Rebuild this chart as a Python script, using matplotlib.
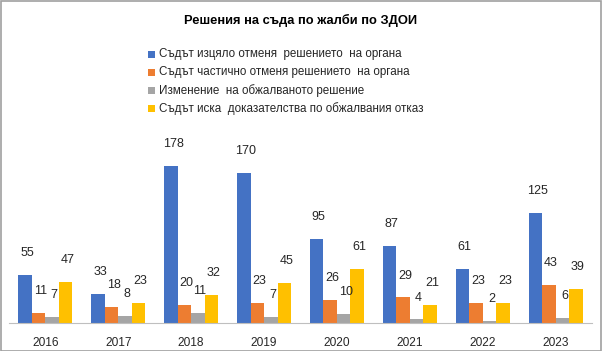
import matplotlib
matplotlib.use("Agg")
import matplotlib.pyplot as plt
import numpy as np
from matplotlib.patches import Rectangle

years = ["2016", "2017", "2018", "2019", "2020", "2021", "2022", "2023"]
full_revoke = [55, 33, 178, 170, 95, 87, 61, 125]
partial_revoke = [11, 18, 20, 23, 26, 29, 23, 43]
amended = [7, 8, 11, 7, 10, 4, 2, 6]
evidence = [47, 23, 32, 45, 61, 21, 23, 39]

series_names = [
    "Съдът изцяло отменя  решението  на органа",
    "Съдът частично отменя решението  на органа",
    "Изменение  на обжалваното решение",
    "Съдът иска  доказателства по обжалвания отказ",
]
colors = ["#4472C4", "#ED7D31", "#A5A5A5", "#FFC000"]
title = "Решения на съда по жалби по ЗДОИ"

plt.rcParams['font.family'] = ['Liberation Sans', 'DejaVu Sans']

W, H = 602, 351
fig = plt.figure(figsize=(W / 100, H / 100), dpi=100)

ax_left, ax_right = 9, 592
ax_bottom = 323
ax_top = 120
ax = fig.add_axes([ax_left / W, 1 - ax_bottom / H, (ax_right - ax_left) / W, (ax_bottom - ax_top) / H])

px_per_unit = 0.88
ymax = (ax_bottom - ax_top) / px_per_unit
ax.set_ylim(0, ymax)
ax.set_xlim(-0.5, len(years) - 0.5)

x = np.arange(len(years))
bw = 0.185
data = [full_revoke, partial_revoke, amended, evidence]
for i, (vals, c) in enumerate(zip(data, colors)):
    pos = x + (i - 1.5) * bw
    ax.bar(pos, vals, width=bw, color=c, zorder=2)
    for p, v in zip(pos, vals):
        ax.annotate(str(v), (p, v), xytext=(1.5, 15.8), textcoords="offset points",
                    ha="center", va="center", fontsize=9, color="#262626")

for s in ["top", "right", "left"]:
    ax.spines[s].set_visible(False)
ax.spines["bottom"].set_color("#BFBFBF")
ax.set_yticks([])
ax.set_xticks(x)
ax.set_xticklabels(years, fontsize=8.6, color="#262626")
ax.tick_params(axis="x", length=0, pad=10)

fig.text(301 / W, 1 - 20 / H, title, ha="center", va="center", fontsize=9.3,
         fontweight="bold", color="#000000")

# legend drawn manually
for i, (name, c) in enumerate(zip(series_names, colors)):
    yc = 54 + 18.3 * i
    fig.add_artist(Rectangle((148 / W, 1 - (yc + 3.5) / H), 7 / W, 7 / H,
                             transform=fig.transFigure, facecolor=c, edgecolor="none"))
    fig.text(159 / W, 1 - yc / H, name, ha="left", va="center", fontsize=8.4,
             color="#262626")

fig.add_artist(Rectangle((0.5 / W, 0.5 / H), 1 - 1.5 / W, 1 - 1.5 / H,
                         transform=fig.transFigure, fill=False,
                         edgecolor="#A0A0A0", linewidth=1.2))

fig.savefig("out.png", dpi=100)
